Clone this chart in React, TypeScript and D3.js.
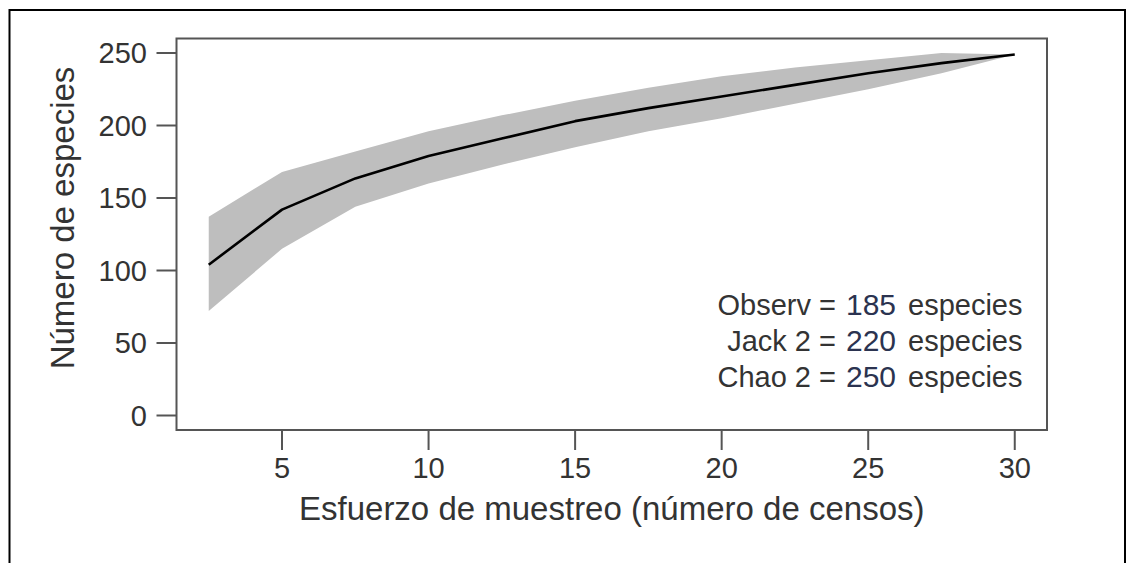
import React from "react";
import * as d3 from "d3";

const effort = [2.5, 5, 7.5, 10, 12.5, 15, 17.5, 20, 22.5, 25, 27.5, 30];
const species = [104, 142, 163.5, 179, 191, 203, 212, 220, 228, 236, 243, 249];
const upper = [137, 168, 182, 196, 207, 217, 226, 234, 240, 245, 250, 249];
const lower = [72, 115, 144, 160, 173, 185, 196, 205, 215, 225, 236, 249];
const xTicks = [5, 10, 15, 20, 25, 30];
const yTicks = [0, 50, 100, 150, 200, 250];
const legendNames = ["Observ =", "Jack 2 =", "Chao 2 ="];
const legendValues = ["185", "220", "250"];
const legendUnit = "especies";

const W = 1127;
const H = 563;
const FONT = "'Liberation Sans', Arial, sans-serif";

export default function App() {
  const x = d3.scaleLinear().domain([1.4, 31.1]).range([176.5, 1047]);
  const y = d3.scaleLinear().domain([-10, 260]).range([430, 38.5]);

  const rows = effort.map((e, i) => ({ e, v: species[i], lo: lower[i], hi: upper[i] }));
  const area = d3
    .area<any>()
    .x((d) => x(d.e))
    .y0((d) => y(d.lo))
    .y1((d) => y(d.hi));
  const line = d3
    .line<any>()
    .x((d) => x(d.e))
    .y((d) => y(d.v));

  const [x0, x1] = x.range();
  const [y0, y1] = y.range();

  return (
    <svg
      width={W}
      height={H}
      style={{ position: "absolute", left: 0, top: 0, background: "#fff" }}
      fontFamily={FONT}
    >
      <rect x={0} y={0} width={W} height={H} fill="#fff" />
      {/* outer frame */}
      <path d={`M9.5,${H} V10 H1125 V${H}`} fill="none" stroke="#000" strokeWidth={2} />

      {/* band and line */}
      <path d={area(rows) || ""} fill="#bebebe" />
      <path d={line(rows) || ""} fill="none" stroke="#000" strokeWidth={2.6} strokeLinejoin="round" />

      {/* plot box */}
      <rect
        x={x0}
        y={y1}
        width={x1 - x0}
        height={y0 - y1}
        fill="none"
        stroke="#555"
        strokeWidth={2}
      />

      {/* y axis */}
      {yTicks.map((t) => (
        <g key={"y" + t}>
          <line x1={x0 - 20} x2={x0} y1={y(t)} y2={y(t)} stroke="#555" strokeWidth={2} />
          <text
            x={147}
            y={y(t)}
            dy="0.36em"
            textAnchor="end"
            fontSize={29}
            fill="#333"
          >
            {t}
          </text>
        </g>
      ))}

      {/* x axis */}
      {xTicks.map((t) => (
        <g key={"x" + t}>
          <line x1={x(t)} x2={x(t)} y1={y0} y2={y0 + 20} stroke="#555" strokeWidth={2} />
          <text x={x(t)} y={478} textAnchor="middle" fontSize={29} fill="#333">
            {t}
          </text>
        </g>
      ))}

      {/* axis titles */}
      <text x={(x0 + x1) / 2} y={520} textAnchor="middle" fontSize={33} fill="#333">
        Esfuerzo de muestreo (número de censos)
      </text>
      <text
        transform={`translate(74,218) rotate(-90)`}
        textAnchor="middle"
        fontSize={33}
        fill="#333"
      >
        Número de especies
      </text>

      {/* legend */}
      {legendNames.map((n, i) => {
        const by = 315 + i * 36;
        return (
          <g key={n}>
            <text x={836} y={by} textAnchor="end" fontSize={29} fill="#333">
              {n}
            </text>
            <text x={846} y={by} fontSize={30} fill="#2b3350">
              {legendValues[i]}
            </text>
            <text x={908} y={by} fontSize={29} fill="#333">
              {legendUnit}
            </text>
          </g>
        );
      })}
    </svg>
  );
}
